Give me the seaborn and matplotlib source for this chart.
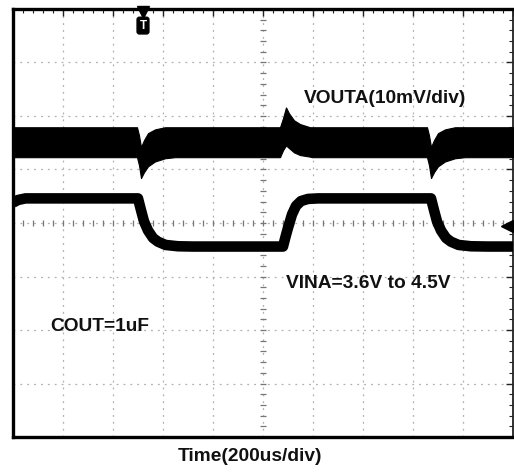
import numpy as np
import matplotlib
matplotlib.use("Agg")
import matplotlib.pyplot as plt
import seaborn as sns

sns.set_style("white")
plt.rcParams["font.family"] = ["Liberation Sans", "DejaVu Sans"]

# ---- scope settings -------------------------------------------------------
n_hdiv = 10          # time divisions (200 us/div)
n_vdiv = 8           # vertical divisions
vin_scale = 1.0      # V per division
vin_pos = -0.04      # channel offset, divisions
vout_scale = 10.0    # mV per division
vout_pos = 5.51      # channel zero position, divisions

# ---- VINA trace: time (div) and voltage (V) -------------------------------
vin_t = [0.0, 0.10, 0.25, 2.50, 2.56, 2.62, 2.70, 2.80, 2.90, 3.05, 3.30, 3.60,
         5.40, 5.45, 5.50, 5.58, 5.66, 5.76, 5.90, 6.10,
         8.36, 8.42, 8.48, 8.56, 8.66, 8.76, 8.91, 9.16, 9.50, 10.0]
vin_v = [4.42, 4.47, 4.50, 4.50, 4.28, 4.07, 3.90, 3.76, 3.69, 3.63, 3.605, 3.60,
         3.60, 3.78, 3.95, 4.20, 4.36, 4.45, 4.49, 4.50,
         4.50, 4.28, 4.07, 3.90, 3.76, 3.69, 3.63, 3.605, 3.60, 3.60]

# ---- VOUTA ripple envelope: time (div), upper / lower (mV) -----------------
vout_t = [0.0, 2.48, 2.52, 2.56, 2.62, 2.70, 2.84, 3.04, 3.24,
          5.34, 5.40, 5.46, 5.52, 5.62, 5.74, 5.94, 5.98,
          8.28, 8.32, 8.36, 8.42, 8.50, 8.64, 8.84, 9.04, 10.0]
vout_hi = [2.8, 2.8, 1.3, -0.9, 0.4, 1.7, 2.4, 2.8, 2.8,
           2.8, 4.5, 6.5, 5.4, 4.1, 3.4, 2.8, 2.8,
           2.8, 1.3, -0.9, 0.4, 1.7, 2.4, 2.8, 2.8, 2.8]
vout_lo = [-2.8, -2.8, -4.3, -6.7, -5.6, -4.5, -3.6, -3.0, -2.8,
           -2.8, -1.5, -0.6, -1.1, -1.9, -2.4, -2.7, -2.8,
           -2.8, -4.3, -6.7, -5.6, -4.5, -3.6, -3.0, -2.8, -2.8]

# ---- labels -----------------------------------------------------------------
lbl_vout = "VOUTA(10mV/div)"
lbl_vin = "VINA=3.6V to 4.5V"
lbl_cout = "COUT=1uF"
lbl_time = "Time(200us/div)"

# ---- figure -------------------------------------------------------------------
W, H = 514, 473
fig = plt.figure(figsize=(W / 100, H / 100), dpi=100)
ax = fig.add_axes([13 / W, 36 / H, 500 / W, 428 / H])
ax.set_xlim(0, n_hdiv)
ax.set_ylim(0, n_vdiv)

# graticule
ax.set_xticks(np.arange(0, n_hdiv + 1, 1))
ax.set_yticks(np.arange(0, n_vdiv + 1, 1))
ax.set_xticks(np.arange(0, n_hdiv + 0.01, 0.2), minor=True)
ax.set_yticks(np.arange(0, n_vdiv + 0.01, 0.2), minor=True)
ax.tick_params(which="both", direction="in", top=True, right=True,
               labelbottom=False, labelleft=False, color="#222222")
ax.tick_params(which="major", length=5, width=1.0)
ax.tick_params(which="minor", length=3, width=0.8)
ax.grid(which="major", color="#b0b0b0", linestyle=(0, (1.5, 4)), linewidth=0.9)
ax.set_axisbelow(True)

for side in ("left", "top", "bottom"):
    ax.spines[side].set_linewidth(2.4)
    ax.spines[side].set_color("black")
ax.spines["right"].set_linewidth(1.3)
ax.spines["right"].set_color("#222222")

# centre cross with sub-division marks
cx = np.arange(0, n_hdiv + 0.01, 0.2)
cy = np.arange(0, n_vdiv + 0.01, 0.2)
ax.plot(cx, np.full_like(cx, n_vdiv / 2), ls="none", marker="|", ms=5,
        mew=0.9, color="#777777", zorder=1)
ax.plot(np.full_like(cy, n_hdiv / 2), cy, ls="none", marker="_", ms=5,
        mew=0.9, color="#777777", zorder=1)

# VOUTA: ripple band
t_arr = np.array(vout_t)
ax.fill_between(t_arr, vout_pos + np.array(vout_hi) / vout_scale,
                vout_pos + np.array(vout_lo) / vout_scale,
                color="black", edgecolor="black", linewidth=0.8, zorder=3)

# VINA: input step
sns.lineplot(x=vin_t, y=np.array(vin_v) / vin_scale + vin_pos, ax=ax,
             color="black", linewidth=7.6, estimator=None, sort=False,
             solid_capstyle="butt", zorder=3)

# trigger marker and channel level marker
ax.plot(2.6, 7.94, marker="v", ms=9, color="black", clip_on=False, zorder=5)
ax.text(2.6, 7.69, "T", ha="center", va="center", color="white",
        fontsize=8.5, fontweight="bold",
        bbox=dict(boxstyle="round,pad=0.2", fc="black", ec="black"), zorder=5)
ax.plot(9.88, 3.94, marker="<", ms=9, color="black", clip_on=False, zorder=5)

# annotations
txt = dict(fontsize=13.8, fontweight="bold", color="#111111", va="center", ha="left")
ax.text(5.82, 6.32, lbl_vout, **txt)
ax.text(5.46, 2.86, lbl_vin, **txt)
ax.text(0.74, 2.06, lbl_cout, **txt)
fig.text(250 / W, 1 - 456 / H, lbl_time, fontsize=13.8, fontweight="bold",
         color="#111111", ha="center", va="center")

ax.set_xlabel("")
ax.set_ylabel("")
fig.savefig("out.png", dpi=100)
